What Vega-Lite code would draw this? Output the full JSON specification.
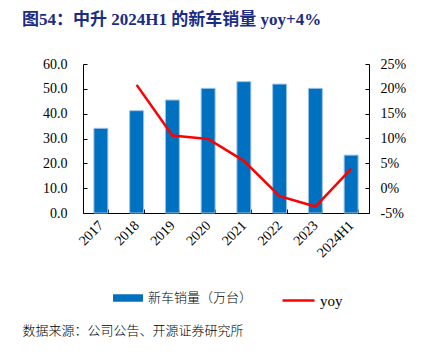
{
  "$schema": "https://vega.github.io/schema/vega-lite/v6.json",
  "width": 286,
  "height": 149,
  "autosize": {"type": "none"},
  "padding": {"left": 83, "top": 64, "right": 71, "bottom": 141},
  "background": "white",
  "title": {
    "text": "图54：中升 2024H1 的新车销量 yoy+4%",
    "anchor": "start",
    "frame": "group",
    "dx": -61,
    "offset": 28,
    "font": "Liberation Serif, Noto Sans CJK SC",
    "fontSize": 17,
    "fontWeight": "bold",
    "color": "#1A2C85"
  },
  "config": {
    "view": {"stroke": null},
    "axis": {
      "grid": false,
      "domainColor": "#000000",
      "tickColor": "#000000",
      "labelColor": "#000000",
      "labelFont": "Liberation Serif",
      "labelFontSize": 14
    }
  },
  "data": {
    "values": [
      {"year": "2017", "sales": 34.1, "yoy": null},
      {"year": "2018", "sales": 41.2, "yoy": 0.208},
      {"year": "2019", "sales": 45.5, "yoy": 0.106},
      {"year": "2020", "sales": 50.2, "yoy": 0.099},
      {"year": "2021", "sales": 52.9, "yoy": 0.055},
      {"year": "2022", "sales": 51.9, "yoy": -0.016},
      {"year": "2023", "sales": 50.2, "yoy": -0.037},
      {"year": "2024H1", "sales": 23.3, "yoy": 0.039}
    ]
  },
  "layer": [
    {
      "mark": {"type": "bar", "stroke": "#9DC3E6", "strokeWidth": 1},
      "encoding": {
        "x": {
          "field": "year",
          "type": "ordinal",
          "sort": null,
          "scale": {"paddingInner": 0.61, "paddingOuter": 0.305},
          "axis": {
            "tickBand": "extent",
            "tickSize": -4,
            "labelAngle": -45,
            "labelAlign": "right",
            "labelBaseline": "middle",
            "labelPadding": 14,
            "title": "数据来源：公司公告、开源证券研究所",
            "titleX": -61,
            "titleY": 117,
            "titleAlign": "left",
            "titleBaseline": "middle",
            "titleFont": "Noto Sans CJK SC",
            "titleFontSize": 13,
            "titleFontWeight": 300,
            "titleColor": "#000000"
          }
        },
        "y": {
          "field": "sales",
          "type": "quantitative",
          "scale": {"domain": [0, 60]},
          "axis": {
            "values": [0, 10, 20, 30, 40, 50, 60],
            "format": ".1f",
            "tickSize": -4,
            "labelPadding": 20,
            "title": null
          }
        },
        "color": {
          "datum": "新车销量（万台）",
          "scale": {"range": ["#0070C0"]},
          "legend": {
            "orient": "none",
            "legendX": 30,
            "legendY": 219,
            "title": null,
            "symbolType": "M-1,-0.25H1V0.25H-1Z",
            "symbolSize": 900,
            "symbolStrokeWidth": 0,
            "labelFont": "Noto Sans CJK SC",
            "labelFontSize": 13,
            "labelFontWeight": 300,
            "labelColor": "#000000",
            "labelOffset": 5
          }
        }
      }
    },
    {
      "mark": {"type": "line", "strokeWidth": 2.5},
      "encoding": {
        "x": {"field": "year", "type": "ordinal", "sort": null},
        "y": {
          "field": "yoy",
          "type": "quantitative",
          "scale": {"domain": [-0.05, 0.25]},
          "axis": {
            "orient": "right",
            "values": [-0.05, 0, 0.05, 0.1, 0.15, 0.2, 0.25],
            "format": ".0%",
            "labelExpr": "replace(datum.label, '−', '-')",
            "tickSize": -4,
            "labelPadding": 15,
            "labelAlign": "left",
            "title": null
          }
        },
        "stroke": {
          "datum": "yoy",
          "scale": {"range": ["#FF0000"]},
          "legend": {
            "orient": "none",
            "legendX": 198,
            "legendY": 219,
            "title": null,
            "symbolType": "stroke",
            "symbolSize": 1024,
            "symbolStrokeWidth": 2.5,
            "labelFont": "Liberation Serif",
            "labelFontSize": 15,
            "labelColor": "#000000",
            "labelOffset": 4
          }
        }
      }
    }
  ],
  "resolve": {"scale": {"y": "independent"}}
}
